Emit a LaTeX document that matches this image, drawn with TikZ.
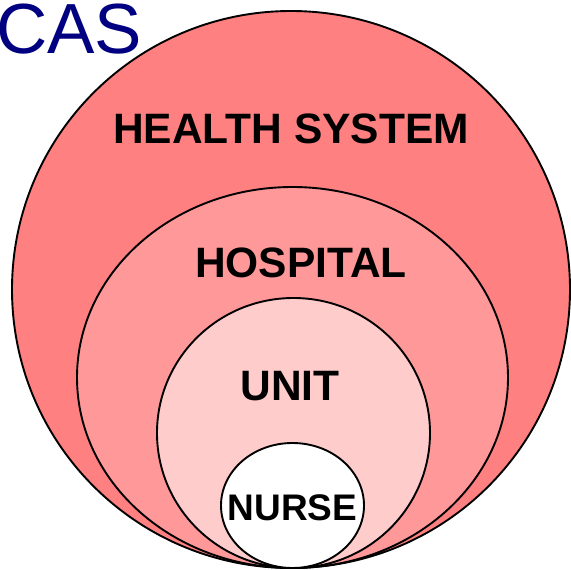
\documentclass[tikz,border=0pt]{standalone}
\usepackage{fontspec}
\setmainfont{Liberation Sans}
\definecolor{systemRed}{RGB}{255,128,128}
\definecolor{hospitalRed}{RGB}{255,153,153}
\definecolor{unitRed}{RGB}{255,204,204}
\definecolor{casBlue}{RGB}{0,0,128}
\tikzset{
    level/.style={draw=black, line width=1.9pt},
    levelLabel/.style={anchor=base, inner sep=0pt, font=\bfseries\fontsize{42.5}{42.5}\selectfont},
}
\begin{document}
\begin{tikzpicture}[x=1pt, y=-1pt]
    \useasboundingbox (0,0) rectangle (571,570);
    % nested levels
    \filldraw[level, fill=systemRed] (291,289.5) ellipse [x radius=279, y radius=278.5];
    \filldraw[level, fill=hospitalRed] (292.5,377.5) ellipse [x radius=215.5, y radius=190.5];
    \filldraw[level, fill=unitRed] (293.5,433) ellipse [x radius=136.5, y radius=135];
    \filldraw[level, fill=white] (292.5,505.5) ellipse [x radius=71.5, y radius=62.5];
    % labels
    \node[levelLabel] (healthSystem) at (291,143) {HEALTH SYSTEM};
    \node[levelLabel] (hospital) at (301,277) {HOSPITAL};
    \node[levelLabel] (unit) at (290,400) {UNIT};
    \node[levelLabel, font=\bfseries\fontsize{37}{37}\selectfont] (nurse) at (292.5,520) {NURSE};
    \node[anchor=base west, inner sep=0pt, text=casBlue, font=\fontsize{71}{71}\selectfont] (cas) at (-4,53) {CAS};
\end{tikzpicture}
\end{document}
